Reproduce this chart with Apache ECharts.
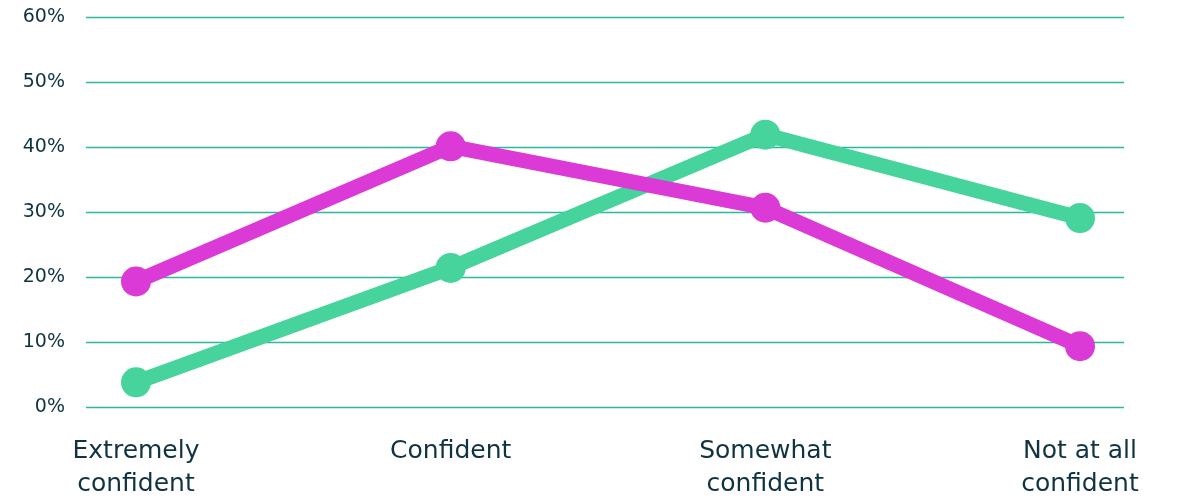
<!DOCTYPE html>
<html>
<head>
<meta charset="utf-8">
<script src="https://cdn.jsdelivr.net/npm/echarts@6/dist/echarts.min.js"></script>
<style>
html,body{margin:0;padding:0;background:#fff;}
#chart{width:1194px;height:501px;}
</style>
</head>
<body>
<div id="chart"></div>
<script>
var categories = ['Extremely\nconfident', 'Confident', 'Somewhat\nconfident', 'Not at all\nconfident'];
var pinkValues = [19.1, 40, 30.5, 9.1];
var greenValues = [3.5, 21.2, 41.8, 28.9];
var yTicks = [0, 10, 20, 30, 40, 50, 60];

var textColor = '#0f3341';
var fontFamily = 'DejaVu Sans, Noto Sans, sans-serif';

var chart = echarts.init(document.getElementById('chart'), null, {renderer: 'canvas'});
chart.setOption({
  animation: false,
  backgroundColor: '#ffffff',
  grid: [
    {left: 86, right: 70, top: 17, bottom: 94},
    {left: 136, right: 114, top: 17, bottom: 94}
  ],
  xAxis: [
    {gridIndex: 0, type: 'category', data: categories, show: false},
    {
      gridIndex: 1, type: 'category', data: categories, boundaryGap: false,
      axisLine: {show: false}, axisTick: {show: false}, splitLine: {show: false},
      axisLabel: {
        color: textColor, fontSize: 25, fontFamily: fontFamily,
        lineHeight: 33, margin: 30, verticalAlign: 'top', interval: 0
      }
    }
  ],
  yAxis: [
    {
      gridIndex: 0, type: 'value', min: yTicks[0], max: yTicks[yTicks.length - 1], interval: 10,
      axisLine: {show: false}, axisTick: {show: false},
      splitLine: {lineStyle: {color: '#2cb89b', width: 1.3}},
      axisLabel: {
        color: textColor, fontSize: 19, fontFamily: fontFamily, margin: 21,
        formatter: function (v) { return v + '%'; }
      }
    },
    {
      gridIndex: 1, type: 'value', min: yTicks[0], max: yTicks[yTicks.length - 1], interval: 10,
      show: false, splitLine: {show: false}
    }
  ],
  series: [
    {
      type: 'line', xAxisIndex: 1, yAxisIndex: 1, data: greenValues,
      symbol: 'circle', symbolSize: 30, showSymbol: true,
      lineStyle: {color: '#46d39c', width: 15},
      itemStyle: {color: '#46d39c'}
    },
    {
      type: 'line', xAxisIndex: 1, yAxisIndex: 1, data: pinkValues,
      symbol: 'circle', symbolSize: 30, showSymbol: true,
      lineStyle: {color: '#db3ad6', width: 15},
      itemStyle: {color: '#db3ad6'}
    }
  ]
});
</script>
</body>
</html>
